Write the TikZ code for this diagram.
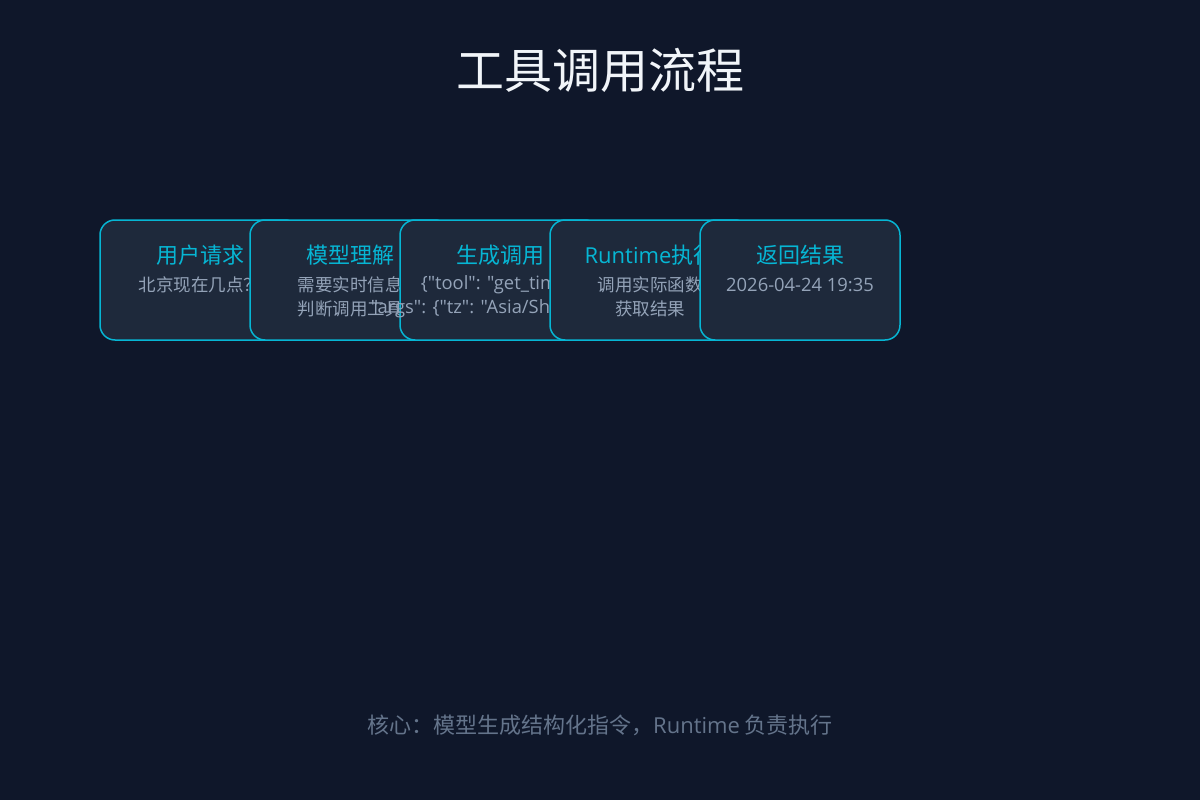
\documentclass[tikz,border=0pt]{standalone}
\usepackage{fontspec}
\setmainfont{Noto Sans CJK SC}
\newfontfamily\lat{Open Sans}
\newfontfamily\latsub{Open Sans}[Scale=1.05]
\definecolor{bg}{HTML}{0F172A}
\definecolor{boxfill}{HTML}{1E293B}
\definecolor{cyanc}{HTML}{06B6D4}
\definecolor{titlec}{HTML}{F1F5F9}
\definecolor{subc}{HTML}{94A3B8}
\definecolor{footc}{HTML}{64748B}
\tikzset{
  card/.style={draw=cyanc, line width=1.5pt, fill=boxfill, rounded corners=15pt,
    minimum width=200pt, minimum height=120pt, inner sep=0pt},
  cardtitle/.style={text=cyanc, font=\fontsize{22}{26}\selectfont, inner sep=0pt, anchor=center},
  cardsub/.style={text=subc, font=\fontsize{17.5}{24}\selectfont, inner sep=0pt, anchor=center, align=center},
}
\begin{document}
\begin{tikzpicture}[x=1pt,y=-1pt]
\fill[bg] (0,0) rectangle (1200,800);
\useasboundingbox (0,0) rectangle (1200,800);
\node[text=titlec, font=\fontsize{48}{52}\selectfont, inner sep=0pt] (title) at (600,70) {工具调用流程};

\node[card] (b1) at (200,280) {};
\node[cardtitle] (t1) at (200,255) {用户请求};
\node[cardsub] (s1) at (200,285) {北京现在几点？};

\node[card] (b2) at (350,280) {};
\node[cardtitle] (t2) at (350,255) {模型理解};
\node[cardsub] (s2) at (350,297) {需要实时信息\\判断调用工具};

\node[card] (b3) at (500,280) {};
\node[cardtitle] (t3) at (500,255) {生成调用};
\node[cardsub] (s3) at (500,297) {\latsub\{"tool": "get\_time",\\\latsub"args": \{"tz": "Asia/Shanghai"\}\}};

\node[card] (b4) at (650,280) {};
\node[cardtitle] (t4) at (650,255) {{\lat Runtime}执行};
\node[cardsub] (s4) at (650,297) {调用实际函数\\获取结果};

\node[card] (b5) at (800,280) {};
\node[cardtitle] (t5) at (800,255) {返回结果};
\node[cardsub] (s5) at (800,285) {\latsub 2026-04-24 19:35};

\node[text=footc, font=\fontsize{22}{26}\selectfont, inner sep=0pt] (foot) at (600,725) {核心：模型生成结构化指令，{\lat Runtime} 负责执行};
\end{tikzpicture}
\end{document}
